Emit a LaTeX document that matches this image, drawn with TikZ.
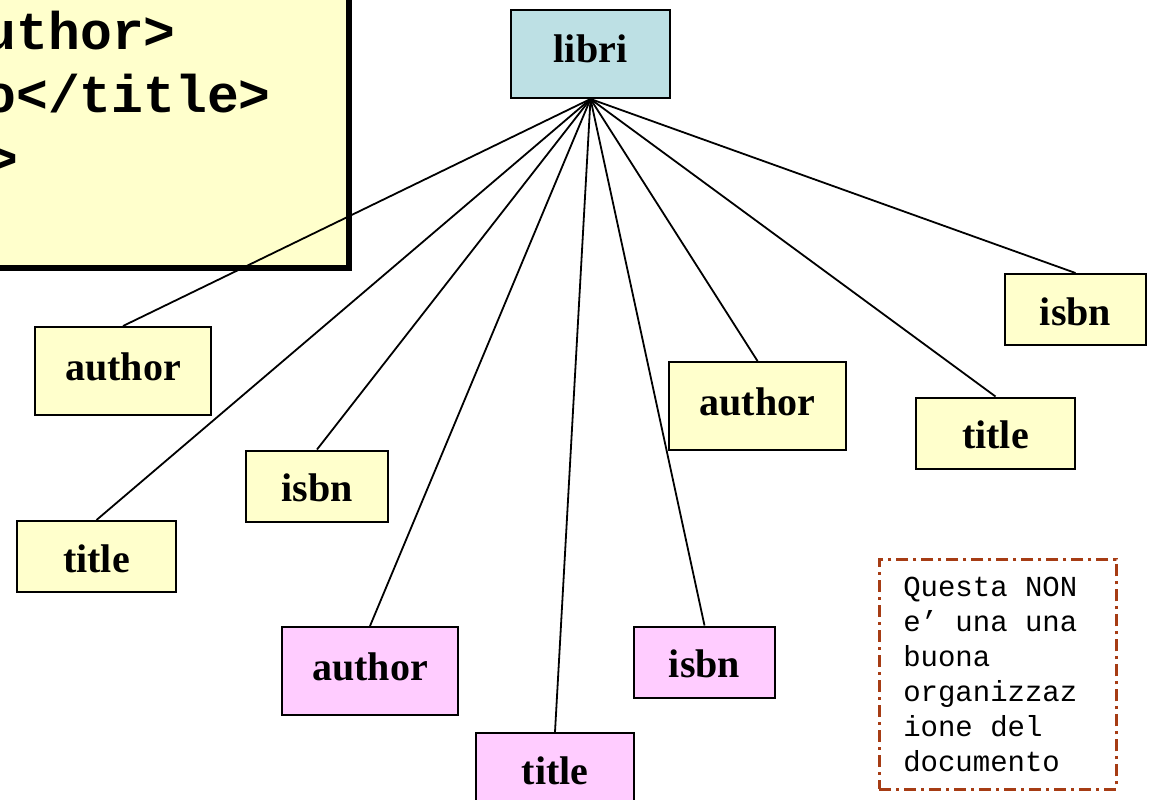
\documentclass[tikz,border=0pt]{standalone}
\usepackage{fontspec}
\setmainfont{Liberation Serif}
\setmonofont{Liberation Mono}
\usetikzlibrary{positioning}
\definecolor{yelfill}{HTML}{FFFFCC}
\definecolor{pnkfill}{HTML}{FFCCFF}
\definecolor{bluefill}{HTML}{BDE0E4}
\definecolor{notedash}{RGB}{166,60,20}

\begin{document}
\begin{tikzpicture}[x=1pt,y=-1pt,
  box/.style={draw=black,line width=2pt,inner sep=0pt,font=\fontsize{40}{48}\selectfont\bfseries},
  tall/.style={box,text height=53pt,text depth=35pt},
  short/.style={box,text height=51pt,text depth=20pt},
  code/.style={anchor=base east,inner sep=0pt,font=\ttfamily\bfseries\fontsize{53}{62}\selectfont},
  link/.style={line width=1.8pt}]
  \useasboundingbox (0,0) rectangle (1149,800);
  \clip (0,0) rectangle (1149,800);

  % xml fragment, cut by the page edge
  \draw[fill=yelfill,line width=6pt] (-20,-20) rectangle (349,268);
  \node[code] (k1) at (176,50) {uthor>};
  \node[code] (k2) at (271,113) {o</title>};
  \node[code] (k3) at (19,176) {>};

  \node[tall,fill=bluefill,minimum width=159pt] (root) at (590.5,54) {libri};

  \node[tall,fill=yelfill,minimum width=176pt] (a1) at (123,371) {author};
  \node[short,fill=yelfill,minimum width=159pt] (a2) at (96.5,556.5) {title};
  \node[short,fill=yelfill,minimum width=142pt] (a3) at (317,486) {isbn};

  \node[tall,fill=pnkfill,minimum width=176pt] (b1) at (370,671) {author};
  \node[short,fill=pnkfill,minimum width=158pt] (b2) at (555,768.5) {title};
  \node[short,fill=pnkfill,minimum width=141pt] (b3) at (704.5,662) {isbn};

  \node[tall,fill=yelfill,minimum width=177pt] (c1) at (757.5,406) {author};
  \node[short,fill=yelfill,minimum width=159pt] (c2) at (995.5,433) {title};
  \node[short,fill=yelfill,minimum width=141pt] (c3) at (1075.5,309.5) {isbn};

  \draw[link] (root.south) -- (a1.north);
  \draw[link] (root.south) -- (a2.north);
  \draw[link] (root.south) -- (a3.north);
  \draw[link] (root.south) -- (b1.north);
  \draw[link] (root.south) -- (b2.north);
  \draw[link] (root.south) -- (b3.north);
  \draw[link] (root.south) -- (c1.north);
  \draw[link] (root.south) -- (c2.north);
  \draw[link] (root.south) -- (c3.north);

  \node[draw=notedash,line width=2.5pt,dash pattern=on 12pt off 5pt on 3pt off 5pt,
        anchor=north west,minimum width=237pt,minimum height=230pt,inner xsep=24pt,
        align=left,text width=189pt,font=\ttfamily\fontsize{29}{35}\selectfont]
    (note) at (878,558) {\spaceskip=0.6em\relax Questa NON\\e’ una una\\buona\\organizzaz\\ione del\\documento};
\end{tikzpicture}
\end{document}
